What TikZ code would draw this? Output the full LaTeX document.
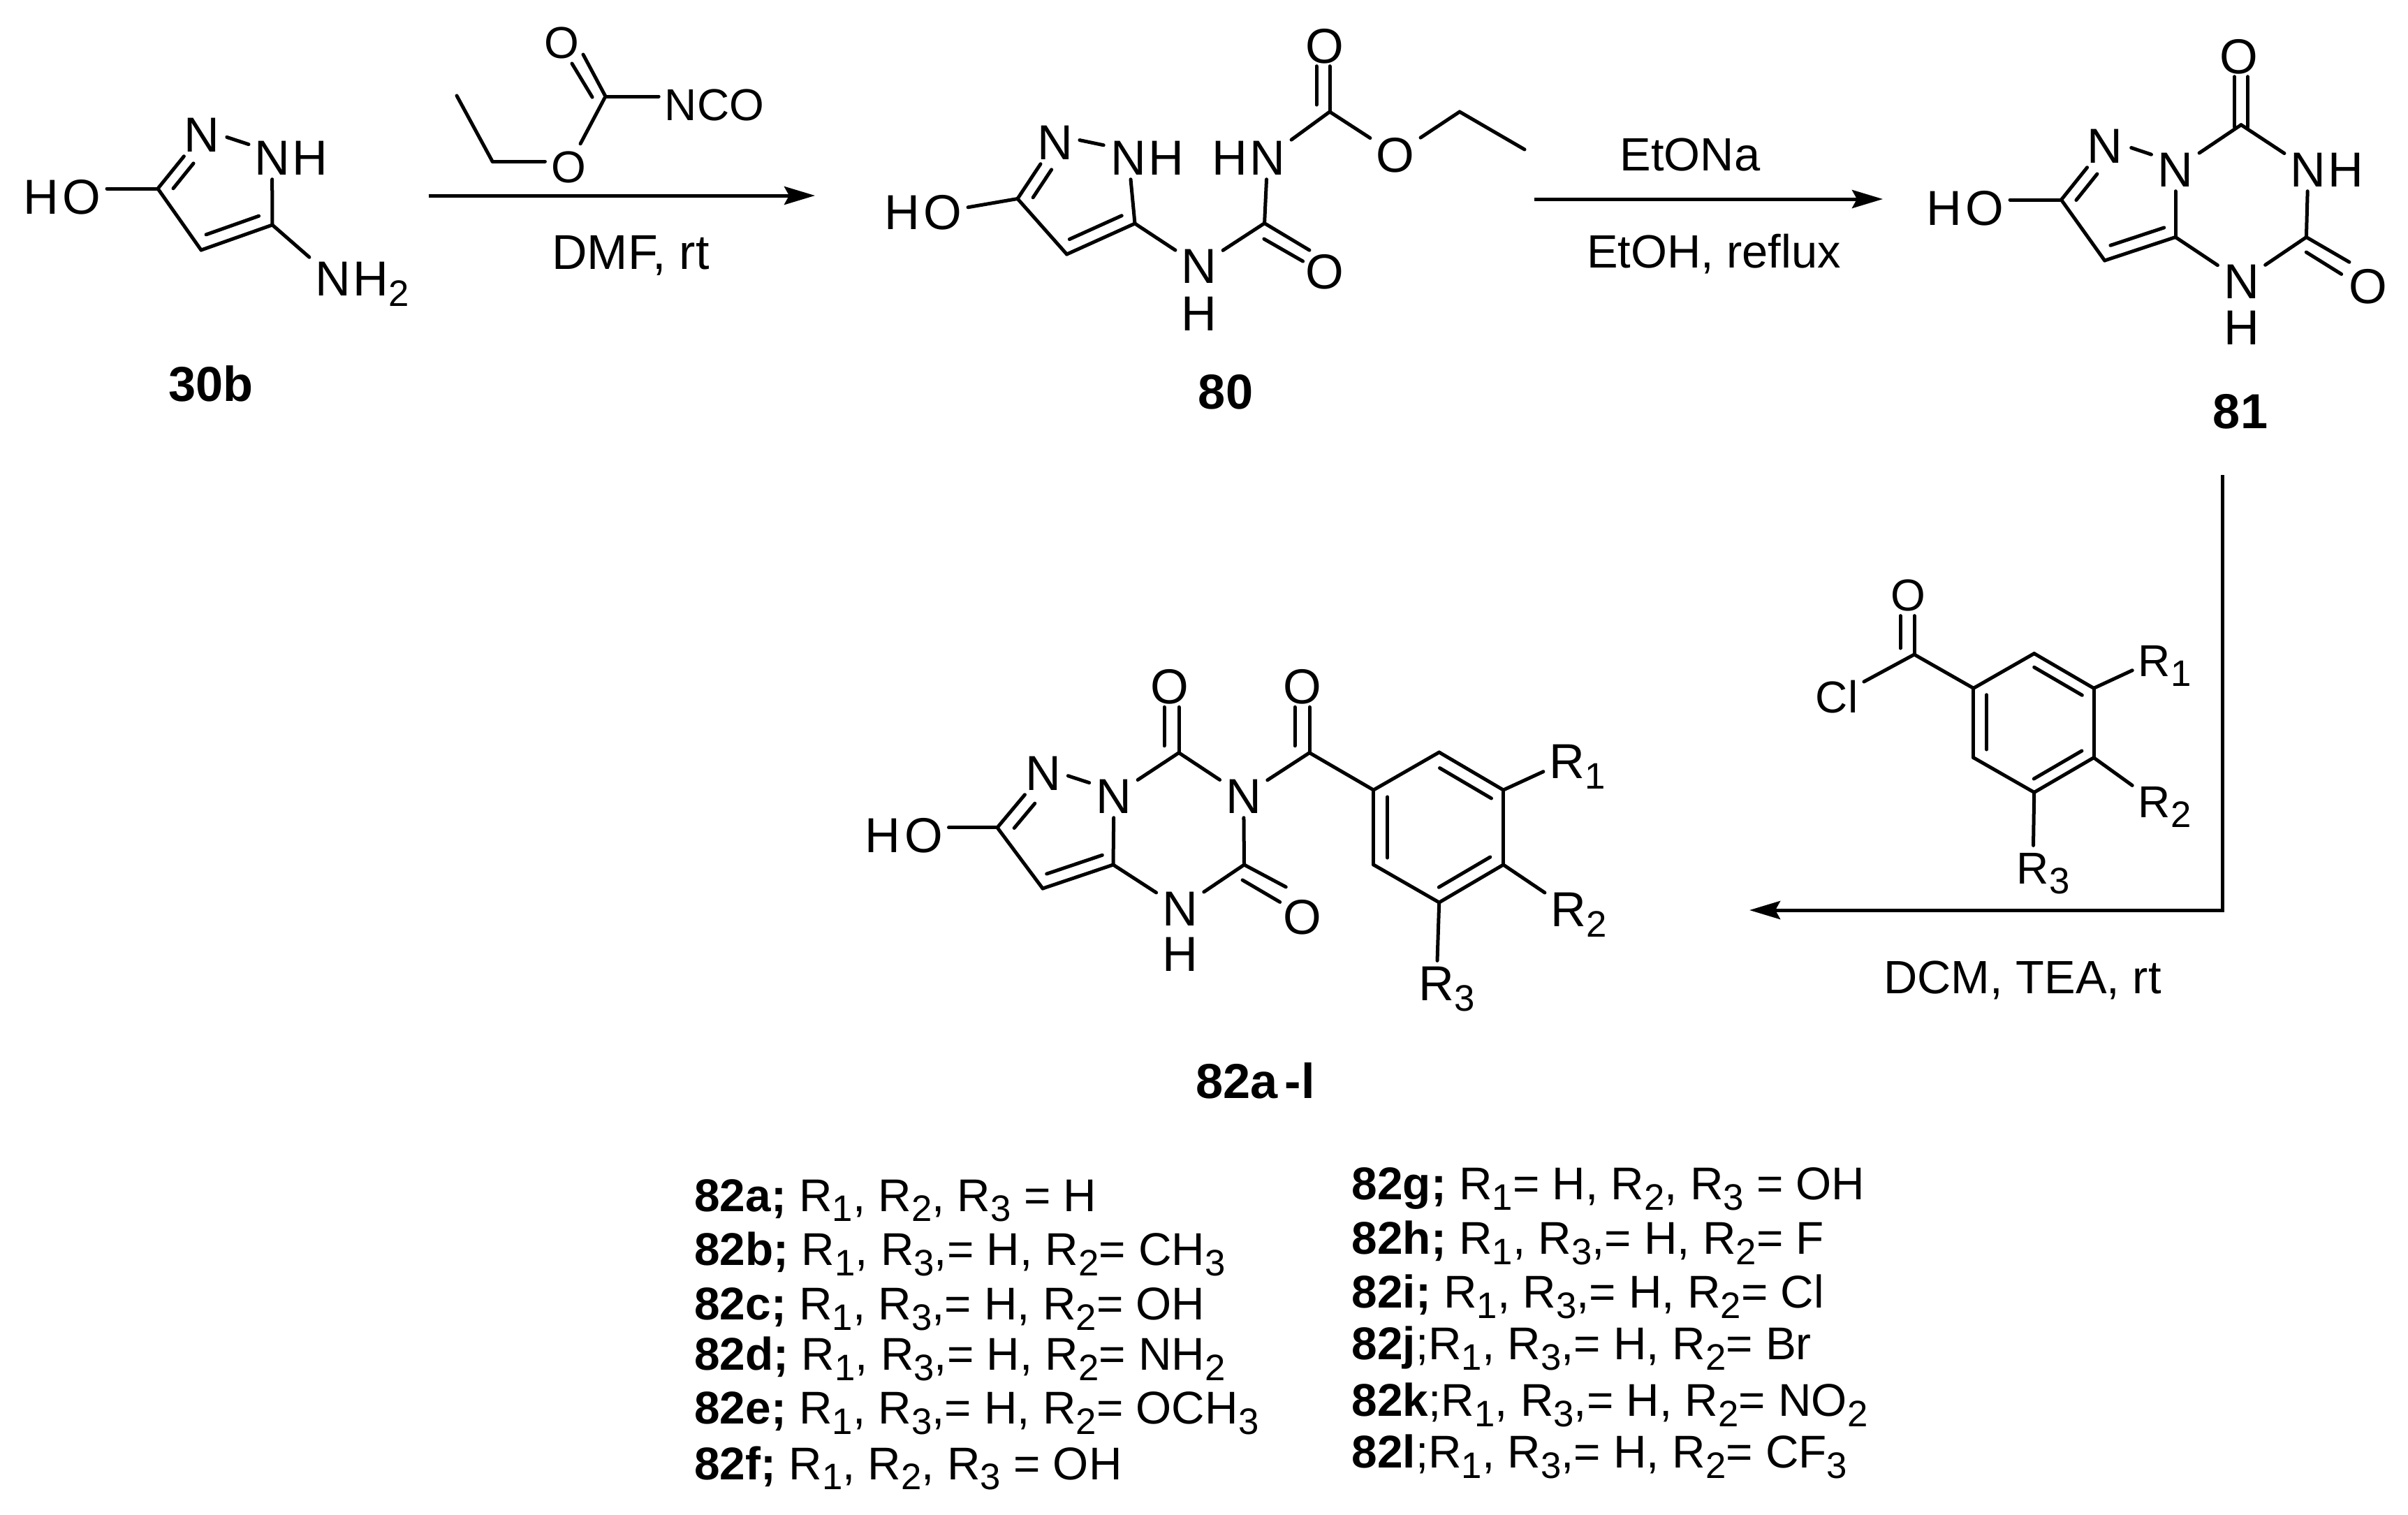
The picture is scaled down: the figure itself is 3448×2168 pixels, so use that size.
\documentclass[tikz,border=0pt]{standalone}
\usepackage{fontspec}
\setmainfont{Liberation Sans}
\usepackage{tikz}
\usetikzlibrary{arrows.meta, positioning, calc}

\newcommand{\low}[1]{\raisebox{-0.22em}{\fontsize{15}{15}\selectfont #1}}
\newcommand{\bline}[6]{\draw[bond] ($(#1)!#3!(#2)!#5cm!90:(#2)$) -- ($(#2)!#4!(#1)!#6cm!-90:(#1)$);}
\newcommand{\vdbl}[4]{\draw[bond] ($(#1)+(#3,#4)$) -- ($(#1 |- #2.south)+(#3,-2)$);}

\tikzset{
  atom/.style={font=\fontsize{20}{22}\selectfont, inner xsep=0.08cm, inner ysep=0.06cm, text height=0.5cm, text depth=0pt},
  atomr/.style={atom, font=\fontsize{18.2}{20}\selectfont, text height=0.46cm, inner ysep=0.085cm},
  lab/.style={atom, font=\fontsize{20}{22}\selectfont\bfseries},
  cond/.style={atom, font=\fontsize{19}{21}\selectfont, text height=0.47cm},
  row/.style={atom, anchor=west, inner xsep=0pt, font=\fontsize{18.7}{20}\selectfont, text height=0.47cm},
  bond/.style={line width=0.05cm, line cap=round},
  rxn/.style={line width=0.05cm, -{Stealth[length=0.44cm,width=0.26cm,inset=0.07cm]}}
}

\begin{document}
\begin{tikzpicture}[x=0.01cm,y=-0.01cm]
\useasboundingbox (0,0) rectangle (3448,2168);

% 30b
\coordinate (c3a) at (226,270);
\coordinate (c4a) at (288,358);
\coordinate (c5a) at (390,322);
\node[atom] (oha) at (117,281) {\llap{H\kern1.5pt}O};
\node[atom] (n2a) at (289,192) {N};
\node[atom] (n1a) at (389.5,225) {N\rlap{\kern1pt H}};
\node[atom] (nh2a) at (477,398) {N\rlap{\kern1pt H\low{2}}};
\node[lab] (l30b) at (302,549) {30b};
\draw[bond] (c3a) -- (c3a -| oha.east);
\draw[bond] (c3a) -- (n2a);
\bline{c3a}{n2a}{.14}{.40}{-.17}{-.17}
\bline{n2a}{n1a}{.335}{.355}{.07}{.07}
\draw[bond] (n1a) -- (c5a);
\draw[bond] (c5a) -- (c4a);
\bline{c4a}{c5a}{.13}{.13}{.185}{.185}
\draw[bond] (c4a) -- (c3a);
\draw[bond] (c5a) -- (nh2a);

% ethyl isocyanatoformate
\coordinate (me1) at (654,137);
\coordinate (ch1) at (705,231);
\coordinate (co1) at (867,138);
\node[atomr] (oe1) at (814,238) {O};
\node[atomr] (od1) at (804,60) {O};
\node[atomr] (nco) at (975,149) {N\rlap{CO}};
\draw[bond] (me1) -- (ch1);
\draw[bond] (ch1) -- (ch1 -| oe1.west);
\draw[bond] (oe1) -- (co1);
\draw[bond] (co1) -- (co1 -| nco.west);
\draw[bond] (co1) -- ($(od1)!.334!(co1)!-.128cm!-90:(co1)$);
\bline{co1}{od1}{.11}{.334}{.154}{.078}

% first arrow
\coordinate (a1s) at (614,280);
\coordinate (a1e) at (1167,280);
\draw[rxn] (a1s) -- (a1e);
\node[cond, font=\fontsize{19.9}{21}\selectfont] (dmf) at (903,362) {DMF, rt};

% 80
\coordinate (c3b) at (1457,284.5);
\coordinate (c4b) at (1527.5,364);
\coordinate (c5b) at (1625,320);
\coordinate (c6b) at (1810.6,319.6);
\coordinate (c7b) at (1904,160);
\coordinate (ch2b) at (2090,160);
\coordinate (me2) at (2183,214);
\node[atom] (ohb) at (1350,303) {\llap{H\kern1.5pt}O};
\node[atom] (n2b) at (1511,203) {N};
\node[atom] (n1b) at (1616,225) {N\rlap{\kern1pt H}};
\node[atom] (nub) at (1717,380.6) {N};
\node[atom] (hub) at (1717,448) {H};
\node[atom] (o6b) at (1897,388.6) {O};
\node[atom] (nvb) at (1815,225) {\llap{H\kern1pt}N};
\node[atom] (o7b) at (1897,65) {O};
\node[atom] (oeb) at (1998,221) {O};
\node[lab] (l80) at (1755,560) {80};
\draw[bond] (c3b) -- (ohb);
\draw[bond] (c3b) -- (n2b);
\bline{c3b}{n2b}{.14}{.37}{-.175}{-.175}
\bline{n2b}{n1b}{.314}{.36}{.095}{.095}
\draw[bond] (n1b) -- (c5b);
\draw[bond] (c5b) -- (c4b);
\bline{c4b}{c5b}{.115}{.117}{.18}{.18}
\draw[bond] (c4b) -- (c3b);
\draw[bond] (c5b) -- (nub);
\draw[bond] (nub) -- (c6b);
\draw[bond] (c6b) -- ($(o6b)!.328!(c6b)!.10cm!-90:(c6b)$);
\bline{c6b}{o6b}{.122}{.304}{-.18}{-.082}
\draw[bond] (c6b) -- (nvb);
\draw[bond] (nvb) -- (c7b);
\vdbl{c7b}{o7b}{0}{0}
\vdbl{c7b}{o7b}{-19}{-10}
\draw[bond] (c7b) -- (oeb);
\draw[bond] (oeb) -- (ch2b);
\draw[bond] (ch2b) -- (me2);

% second arrow
\coordinate (a2s) at (2197,285);
\coordinate (a2e) at (2696,285);
\draw[rxn] (a2s) -- (a2e);
\node[cond] (etona) at (2420,221) {EtONa};
\node[cond] (etoh) at (2454,360) {EtOH, reflux};

% 81
\coordinate (c3c) at (2951.5,286);
\coordinate (c4c) at (3013.6,373);
\coordinate (c5c) at (3115,339.5);
\coordinate (c6c) at (3209,178.7);
\coordinate (c7c) at (3302.4,339.5);
\node[atom] (ohc) at (2842,297) {\llap{H\kern1.5pt}O};
\node[atom] (n2c) at (3014,208) {N};
\node[atom] (n1c) at (3115,242) {N};
\node[atom] (n3c) at (3305,242) {N\rlap{\kern1pt H}};
\node[atom] (o6c) at (3205.5,80) {O};
\node[atom] (nuc) at (3209.5,402.4) {N};
\node[atom] (huc) at (3209.5,468) {H};
\node[atom] (o7c) at (3390.6,409) {O};
\node[lab] (l81) at (3208,588) {81};
\draw[bond] (c3c) -- (c3c -| ohc.east);
\draw[bond] (c3c) -- (n2c);
\bline{c3c}{n2c}{.13}{.39}{-.17}{-.17}
\bline{n2c}{n1c}{.346}{.37}{.087}{.087}
\draw[bond] (n1c) -- (c5c);
\draw[bond] (c5c) -- (c4c);
\bline{c4c}{c5c}{.138}{.104}{.18}{.18}
\draw[bond] (c4c) -- (c3c);
\draw[bond] (n1c) -- (c6c);
\draw[bond] (c6c) -- (n3c);
\vdbl{c6c}{o6c}{-9.5}{3}
\vdbl{c6c}{o6c}{9.5}{3}
\draw[bond] (n3c) -- (c7c);
\draw[bond] (c7c) -- (nuc);
\draw[bond] (nuc) -- (c5c);
\draw[bond] (c7c) -- ($(o7c)!.373!(c7c)!.10cm!-90:(c7c)$);
\bline{c7c}{o7c}{.118}{.357}{-.17}{-.105}

% acid chloride
\coordinate (cob) at (2741,937);
\coordinate (r1b) at (2825.8,985.3);
\coordinate (r2b) at (2912.7,935.6);
\coordinate (r3b) at (2998,985.3);
\coordinate (r4b) at (2998,1084.7);
\coordinate (r5b) at (2912.7,1134.4);
\coordinate (r6b) at (2825.8,1084.7);
\node[atomr] (odb) at (2732,851.4) {O};
\node[atomr] (clb) at (2630,997) {Cl};
\node[atomr] (ra1b) at (3085,945) {R\rlap{\low{1}}};
\node[atomr] (ra2b) at (3085,1147.4) {R\rlap{\low{2}}};
\node[atomr] (ra3b) at (2911,1242.6) {R\rlap{\low{3}}};
\vdbl{cob}{odb}{0}{0}
\vdbl{cob}{odb}{-20}{-9}
\draw[bond] (cob) -- (clb);
\draw[bond] (cob) -- (r1b);
\draw[bond] (r1b) -- (r2b);
\draw[bond] (r2b) -- (r3b);
\draw[bond] (r3b) -- (r4b);
\draw[bond] (r4b) -- (r5b);
\draw[bond] (r5b) -- (r6b);
\draw[bond] (r6b) -- (r1b);
\bline{r2b}{r3b}{.1}{.095}{-.17}{-.17}
\bline{r4b}{r5b}{.1}{.095}{-.17}{-.17}
\bline{r1b}{r6b}{.095}{.118}{.187}{.187}
\draw[bond] (r3b) -- (ra1b);
\draw[bond] (r4b) -- (ra2b);
\draw[bond] (r5b) -- (ra3b);

% third arrow
\coordinate (a3s) at (3182,680);
\coordinate (a3c) at (3182,1303);
\coordinate (a3e) at (2505,1303);
\draw[rxn] (a3s) -- (a3c) -- (a3e);
\node[cond] (dcm) at (2896,1399) {DCM, TEA, rt};

% 82a-l
\coordinate (c3d) at (1428,1184.8);
\coordinate (c4d) at (1493,1272);
\coordinate (c5d) at (1594,1238);
\coordinate (c6d) at (1688,1077.7);
\coordinate (c7d) at (1781.5,1238);
\coordinate (cod) at (1875,1077.7);
\coordinate (r1d) at (1966.7,1131);
\coordinate (r2d) at (2060.7,1077);
\coordinate (r3d) at (2152.6,1131);
\coordinate (r4d) at (2152.6,1238);
\coordinate (r5d) at (2060.7,1292);
\coordinate (r6d) at (1966.7,1238);
\node[atom] (ohd) at (1322.4,1195) {\llap{H\kern1.5pt}O};
\node[atom] (n2d) at (1494,1106) {N};
\node[atom] (n1d) at (1595,1139) {N};
\node[atom] (n3d) at (1780.7,1139) {N};
\node[atom] (o6d) at (1675,982.6) {O};
\node[atom] (nud) at (1689.7,1300) {N};
\node[atom] (hud) at (1689.7,1365) {H};
\node[atom] (o7d) at (1865,1312) {O};
\node[atom] (ocd) at (1865,982.6) {O};
\node[atom] (ra1d) at (2244,1089) {R\rlap{\low{1}}};
\node[atom] (ra2d) at (2246,1301) {R\rlap{\low{2}}};
\node[atom] (ra3d) at (2057,1407) {R\rlap{\low{3}}};
\node[lab] (l82) at (1797.5,1547) {82a\hspace{0.15em}-l};
\draw[bond] (c3d) -- (c3d -| ohd.east);
\draw[bond] (c3d) -- (n2d);
\bline{c3d}{n2d}{.146}{.406}{-.19}{-.19}
\bline{n2d}{n1d}{.33}{.37}{.065}{.065}
\draw[bond] (n1d) -- (c5d);
\draw[bond] (c5d) -- (c4d);
\bline{c4d}{c5d}{.113}{.098}{.18}{.18}
\draw[bond] (c4d) -- (c3d);
\draw[bond] (n1d) -- (c6d);
\draw[bond] (c6d) -- (n3d);
\vdbl{c6d}{o6d}{0}{0}
\vdbl{c6d}{o6d}{-21}{-10}
\draw[bond] (n3d) -- (c7d);
\draw[bond] (c7d) -- (nud);
\draw[bond] (nud) -- (c5d);
\draw[bond] (c7d) -- ($(o7d)!.41!(c7d)!.158cm!-90:(c7d)$);
\bline{c7d}{o7d}{.114}{.339}{-.18}{-.06}
\draw[bond] (n3d) -- (cod);
\vdbl{cod}{ocd}{0}{0}
\vdbl{cod}{ocd}{-21}{-10}
\draw[bond] (cod) -- (r1d);
\draw[bond] (r1d) -- (r2d);
\draw[bond] (r2d) -- (r3d);
\draw[bond] (r3d) -- (r4d);
\draw[bond] (r4d) -- (r5d);
\draw[bond] (r5d) -- (r6d);
\draw[bond] (r6d) -- (r1d);
\bline{r2d}{r3d}{.114}{.082}{-.19}{-.19}
\bline{r4d}{r5d}{.1}{.1}{-.19}{-.19}
\bline{r1d}{r6d}{.093}{.093}{.2}{.2}
\draw[bond] (r3d) -- (ra1d);
\draw[bond] (r4d) -- (ra2d);
\draw[bond] (r5d) -- (ra3d);

% substituents
\node[row] (ra) at (993.6,1710.7) {\textbf{82a;} R\low{1}, R\low{2}, R\low{3} = H};
\node[row] (rb) at (993.6,1788) {\textbf{82b;} R\low{1}, R\low{3},= H, R\low{2}= CH\low{3}};
\node[row] (rc) at (993.6,1866) {\textbf{82c;} R\low{1}, R\low{3},= H, R\low{2}= OH};
\node[row] (rd) at (993.6,1938) {\textbf{82d;} R\low{1}, R\low{3},= H, R\low{2}= NH\low{2}};
\node[row] (re) at (993.6,2015) {\textbf{82e;} R\low{1}, R\low{3},= H, R\low{2}= OCH\low{3}};
\node[row] (rf) at (993.6,2094.5) {\textbf{82f;} R\low{1}, R\low{2}, R\low{3} = OH};
\node[row] (rg) at (1935,1694) {\textbf{82g;} R\low{1}= H, R\low{2}, R\low{3} = OH};
\node[row] (rh) at (1935,1772) {\textbf{82h;} R\low{1}, R\low{3},= H, R\low{2}= F};
\node[row] (ri) at (1935,1849) {\textbf{82i;} R\low{1}, R\low{3},= H, R\low{2}= Cl};
\node[row] (rj) at (1935,1923) {\textbf{82j};R\low{1}, R\low{3},= H, R\low{2}= Br};
\node[row] (rk) at (1935,2004) {\textbf{82k};R\low{1}, R\low{3},= H, R\low{2}= NO\low{2}};
\node[row] (rl) at (1935,2078) {\textbf{82l};R\low{1}, R\low{3},= H, R\low{2}= CF\low{3}};
\end{tikzpicture}
\end{document}
